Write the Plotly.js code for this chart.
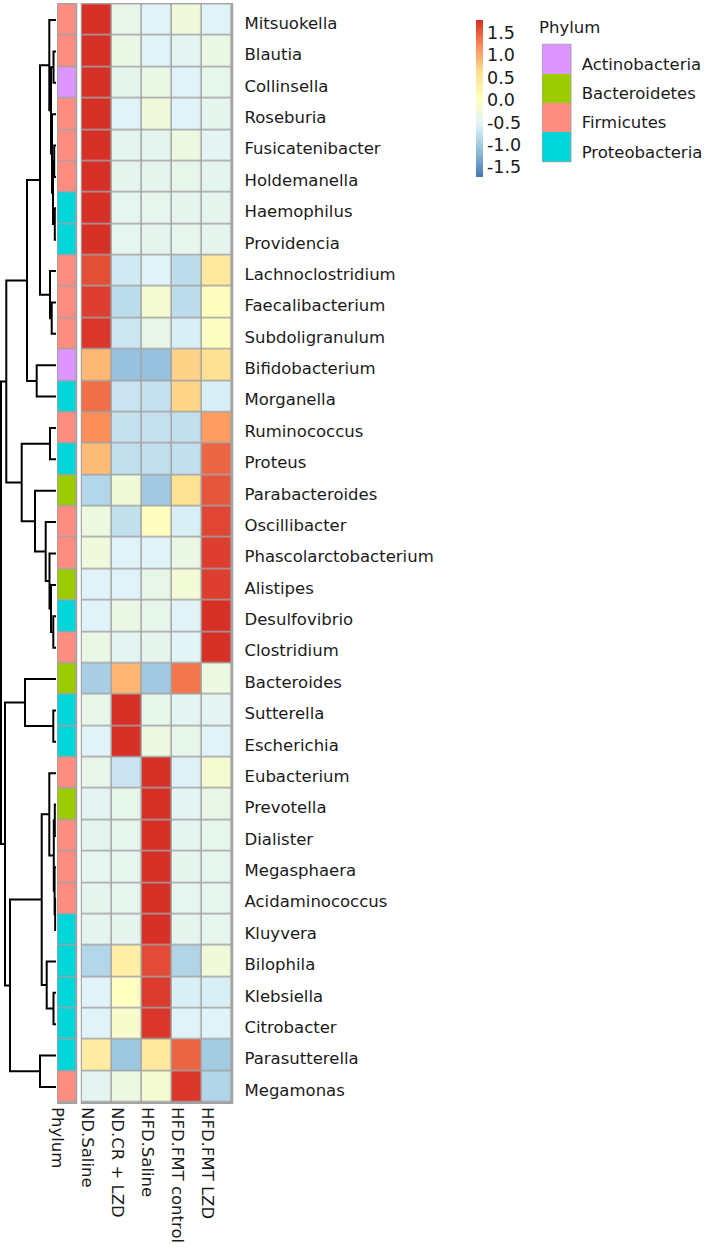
<!DOCTYPE html>
<html><head><meta charset="utf-8">
<script src="https://cdn.plot.ly/plotly-3.0.1.min.js"></script>
<style>html,body{margin:0;padding:0;background:#fff}</style>
</head><body><div id="chart" style="width:725px;height:1256px"></div>
<script>
// ---------- data ----------
const genera = ['Mitsuokella','Blautia','Collinsella','Roseburia','Fusicatenibacter','Holdemanella','Haemophilus','Providencia','Lachnoclostridium','Faecalibacterium','Subdoligranulum','Bifidobacterium','Morganella','Ruminococcus','Proteus','Parabacteroides','Oscillibacter','Phascolarctobacterium','Alistipes','Desulfovibrio','Clostridium','Bacteroides','Sutterella','Escherichia','Eubacterium','Prevotella','Dialister','Megasphaera','Acidaminococcus','Kluyvera','Bilophila','Klebsiella','Citrobacter','Parasutterella','Megamonas'];
const phylumOfGenus = ['Firmicutes','Firmicutes','Actinobacteria','Firmicutes','Firmicutes','Firmicutes','Proteobacteria','Proteobacteria','Firmicutes','Firmicutes','Firmicutes','Actinobacteria','Proteobacteria','Firmicutes','Proteobacteria','Bacteroidetes','Firmicutes','Firmicutes','Bacteroidetes','Proteobacteria','Firmicutes','Bacteroidetes','Proteobacteria','Proteobacteria','Firmicutes','Bacteroidetes','Firmicutes','Firmicutes','Firmicutes','Proteobacteria','Proteobacteria','Proteobacteria','Proteobacteria','Proteobacteria','Firmicutes'];
const groups = ['ND.Saline','ND.CR + LZD','HFD.Saline','HFD.FMT control','HFD.FMT LZD'];
const annotationLabel = 'Phylum';

const ndSaline      = [1.79,1.79,1.79,1.79,1.79,1.79,1.79,1.79,1.6,1.7,1.75,0.9,1.4,1.2,0.88,-0.88,-0.3,-0.25,-0.55,-0.55,-0.35,-0.95,-0.4,-0.53,-0.4,-0.5,-0.47,-0.46,-0.45,-0.45,-0.88,-0.55,-0.55,0.4,-0.48];
const ndCrLzd       = [-0.4,-0.35,-0.45,-0.55,-0.47,-0.45,-0.46,-0.46,-0.65,-0.8,-0.7,-1.1,-0.72,-0.75,-0.78,-0.22,-0.78,-0.55,-0.55,-0.35,-0.48,0.92,1.79,1.79,-0.72,-0.42,-0.44,-0.44,-0.44,-0.45,0.35,0.02,-0.1,-1.05,-0.3];
const hfdSaline     = [-0.55,-0.55,-0.35,-0.25,-0.47,-0.45,-0.44,-0.45,-0.55,-0.15,-0.4,-1.1,-0.75,-0.75,-0.78,-1.02,0.05,-0.55,-0.4,-0.42,-0.45,-1.02,-0.42,-0.32,1.79,1.79,1.79,1.79,1.79,1.79,1.62,1.72,1.75,0.45,-0.15];
const hfdFmtControl = [-0.25,-0.5,-0.55,-0.55,-0.3,-0.42,-0.45,-0.44,-0.8,-0.8,-0.6,0.72,0.7,-0.78,-0.78,0.58,-0.6,-0.35,-0.2,-0.53,-0.52,1.35,-0.48,-0.42,-0.57,-0.5,-0.47,-0.45,-0.46,-0.45,-0.9,-0.6,-0.55,1.45,1.75];
const hfdFmtLzd     = [-0.55,-0.35,-0.42,-0.45,-0.5,-0.47,-0.45,-0.45,0.45,0.05,0.0,0.6,-0.6,1.1,1.45,1.55,1.65,1.7,1.7,1.79,1.79,-0.3,-0.5,-0.55,-0.15,-0.38,-0.41,-0.44,-0.44,-0.44,-0.22,-0.6,-0.55,-1.0,-0.9];

const phylumNames  = ['Actinobacteria','Bacteroidetes','Firmicutes','Proteobacteria'];
const phylumColors = ['#DD95FF','#9BCB00','#FF8C80','#00D6DA'];
const heatColors   = ['#4575B4','#91BFDB','#E0F3F8','#FFFFBF','#FEE090','#FC8D59','#D73027'];
const colorTicks   = [-1.5,-1.0,-0.5,0.0,0.5,1.0,1.5];
const zMin = -1.72, zMax = 1.79;

// row dendrogram: [childA, childB, height]; leaves 0..34, merges numbered from 35
const merges = [
  [4,5,1.8],[6,7,1.2],[35,36,3.0],[3,37,4.0],[1,2,2.5],[39,38,5.0],[0,40,6.7],
  [9,10,4.3],[8,42,6.0],[41,43,16],[11,12,19.3],[44,45,29],
  [13,14,6],[19,20,2.7],[18,48,5.0],[17,49,6.5],[16,50,10.3],[15,51,21],[47,52,34.3],[46,53,49.7],
  [22,23,2.7],[21,55,31],
  [25,26,1.2],[28,29,0.8],[27,58,1.4],[57,59,2.2],[24,60,6.7],
  [31,32,2.5],[30,62,9.3],[61,63,14.3],[33,34,16],[64,65,46],[56,66,51],[54,67,55]
];

// ---------- build ----------
const W = 725, H = 1256;
const px = v => v / W, py = v => 1 - v / H;
const FONT = 'DejaVu Sans';
const TXT = '#1a1a1a';
const rows = genera.map((_, i) => i);
const z = genera.map((_, i) => [ndSaline[i], ndCrLzd[i], hfdSaline[i], hfdFmtControl[i], hfdFmtLzd[i]]);
const colorscale = heatColors.map((c, i) => [i / (heatColors.length - 1), c]);

const pScale = [];
phylumColors.forEach((c, i) => { pScale.push([i / phylumColors.length, c]); pScale.push([(i + 1) / phylumColors.length, c]); });
const phylumZ = phylumOfGenus.map(p => [phylumNames.indexOf(p)]);

// dendrogram segments
const nodeY = rows.slice(), nodeH = rows.map(() => 0);
const dx = [], dy = [];
merges.forEach(([a, b, h]) => {
  dx.push(nodeH[a], h, h, nodeH[b], null);
  dy.push(nodeY[a], nodeY[a], nodeY[b], nodeY[b], null);
  nodeY.push((nodeY[a] + nodeY[b]) / 2); nodeH.push(h);
});
const root = nodeY.length - 1;
dx.push(nodeH[root], nodeH[root] + 1); dy.push(nodeY[root], nodeY[root]);

const pad = 0.045;
const traces = [
  { type: 'scatter', mode: 'lines', x: dx, y: dy, xaxis: 'x', yaxis: 'y',
    line: { color: '#000', width: 2 }, hoverinfo: 'skip', cliponaxis: false },
  { type: 'heatmap', z: phylumZ, x: [annotationLabel], y: rows, xaxis: 'x2', yaxis: 'y',
    zmin: -0.5, zmax: phylumNames.length - 0.5, colorscale: pScale, showscale: false,
    xgap: 1.5, ygap: 1.5, hoverinfo: 'skip' },
  { type: 'heatmap', z: z, x: groups, y: rows, xaxis: 'x3', yaxis: 'y',
    zmin: zMin, zmax: zMax, colorscale: colorscale, xgap: 1.5, ygap: 1.5,
    colorbar: { x: px(476), xanchor: 'left', y: py(20), yanchor: 'top', len: 157 / H,
      thickness: 7, xpad: 0, ypad: 0, outlinewidth: 0, ticks: '', ticklabelstandoff: 2,
      tickvals: colorTicks, ticktext: colorTicks.map(v => v.toFixed(1)),
      tickfont: { family: FONT, size: 17.5, color: TXT } } },
  { type: 'heatmap', z: phylumNames.map((_, i) => [i]), x: [0], y: phylumNames.map((_, i) => i),
    xaxis: 'x4', yaxis: 'y4', zmin: -0.5, zmax: phylumNames.length - 0.5,
    colorscale: pScale, showscale: false, hoverinfo: 'skip' }
];

const hidden = { showgrid: false, zeroline: false, showline: false, showticklabels: false, ticks: '' };
const layout = {
  width: W, height: H, margin: { l: 0, r: 0, t: 0, b: 0 },
  paper_bgcolor: '#fff', plot_bgcolor: '#fff', showlegend: false,
  font: { family: FONT, color: TXT, size: 16.5 },
  xaxis: Object.assign({}, hidden, { domain: [0, px(56.5)], range: [56, -0.5], anchor: 'y' }),
  xaxis2: { domain: [px(57), px(77.5)], range: [-0.5 - pad, 0.5 + pad], anchor: 'y',
    showgrid: false, zeroline: false, showline: false, ticks: '', type: 'category',
    tickangle: 90, tickfont: { size: 16.5, color: TXT }, ticklabelstandoff: 2, ticklabelshift: -10 },
  xaxis3: { domain: [px(80.5), px(233.5)], range: [-0.5 - pad, 4.5 + pad], anchor: 'y',
    showgrid: false, zeroline: false, showline: false, ticks: '', type: 'category',
    tickangle: 90, tickfont: { size: 16.5, color: TXT }, ticklabelstandoff: 2, ticklabelshift: -10 },
  yaxis: { domain: [py(1104), py(3)], range: [34.5 + pad, -0.5 - pad], anchor: 'x3', side: 'right',
    tickvals: rows, ticktext: genera, ticks: '', showgrid: false, zeroline: false, showline: false,
    tickfont: { size: 16.5, color: TXT }, ticklabelstandoff: 10, ticklabelshift: -3 },
  xaxis4: Object.assign({}, hidden, { domain: [px(541.7), px(571.7)], range: [-0.5 - 0.03, 0.5 + 0.03], anchor: 'y4' }),
  yaxis4: { domain: [py(162.5), py(43.5)], range: [3.5 + 0.03, -0.5 - 0.03], anchor: 'x4', side: 'right',
    tickvals: phylumNames.map((_, i) => i), ticktext: phylumNames, ticks: '',
    showgrid: false, zeroline: false, showline: false,
    tickfont: { size: 16.5, color: TXT }, ticklabelstandoff: 9, ticklabelshift: -5 },
  shapes: [
    { type: 'rect', xref: 'x2', yref: 'y', x0: -0.5 - pad, x1: 0.5 + pad, y0: -0.5 - pad, y1: 34.5 + pad,
      fillcolor: '#a3a3a3', line: { width: 0 }, layer: 'below' },
    { type: 'rect', xref: 'x3', yref: 'y', x0: -0.5 - pad, x1: 4.5 + pad, y0: -0.5 - pad, y1: 34.5 + pad,
      fillcolor: '#a3a3a3', line: { width: 0 }, layer: 'below' },
    { type: 'rect', xref: 'x4', yref: 'y4', x0: -0.53, x1: 0.53, y0: -0.53, y1: 3.53,
      fillcolor: '#a3a3a3', line: { width: 0 }, layer: 'below' }
  ],
  annotations: [
    { text: annotationLabel, xref: 'paper', yref: 'paper', x: px(537), y: py(28), xanchor: 'left', yanchor: 'middle',
      showarrow: false, font: { size: 16.5, color: TXT } }
  ]
};

Plotly.newPlot('chart', traces, layout, { displayModeBar: false, staticPlot: true });
</script></body></html>
